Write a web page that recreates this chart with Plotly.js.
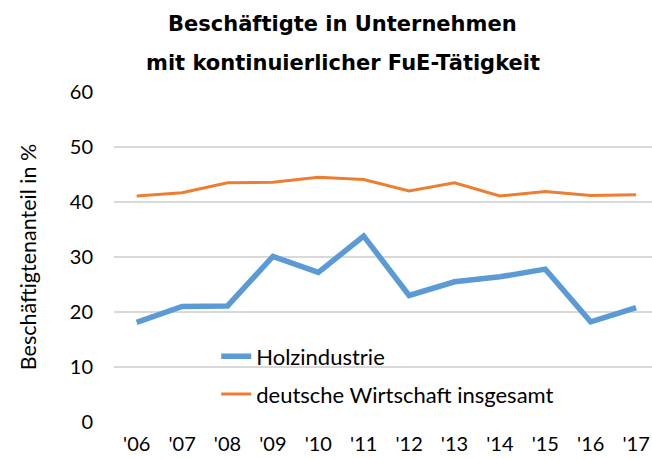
<!DOCTYPE html>
<html><head><meta charset="utf-8">
<script src="https://cdn.plot.ly/plotly-3.0.1.min.js"></script>
<style>body{margin:0;background:#fff}#c{width:652px;height:459px}</style>
</head><body><div id="c"></div>
<script>
const years = ["'06","'07","'08","'09","'10","'11","'12","'13","'14","'15","'16","'17"];
const holz = [18.1, 21.0, 21.1, 30.1, 27.2, 33.8, 23.0, 25.5, 26.4, 27.8, 18.2, 20.8];
const gesamt = [41.1, 41.7, 43.5, 43.6, 44.5, 44.1, 42.0, 43.5, 41.1, 41.9, 41.2, 41.3];
const seriesNames = ["Holzindustrie", "deutsche Wirtschaft insgesamt"];
const titleLines = ["Beschäftigte in Unternehmen", "mit kontinuierlicher FuE-Tätigkeit"];
const yTitle = "Beschäftigtenanteil in %";

const traces = [
  {x: years, y: holz, name: seriesNames[0], type: 'scatter', mode: 'lines',
   line: {color: '#5B9BD5', width: 5.5}, legendgroup: 'a'},
  {x: years, y: gesamt, name: seriesNames[1], type: 'scatter', mode: 'lines',
   line: {color: '#ED7D31', width: 3}, legendgroup: 'b'}
];
const fam = 'Lato, "Liberation Sans", sans-serif';
const tickFont = {family: fam, size: 20, color: '#000'};
const yTitleFont = {family: fam, size: 21.5, color: '#000'};
const legFont = {family: fam, size: 22, color: '#000'};
const titleFont = {family: '"DejaVu Sans", Verdana, sans-serif', size: 21, color: '#000'};
const layout = {
  width: 652, height: 459,
  margin: {l: 114, r: 0, t: 92, b: 37},
  paper_bgcolor: '#fff', plot_bgcolor: '#fff',
  font: tickFont,
  showlegend: true,
  legend: {x: 0.19, y: 0.262, xanchor: 'left', yanchor: 'top', bgcolor: 'rgba(0,0,0,0)',
           font: legFont, traceorder: 'grouped', tracegroupgap: 6, itemwidth: 30},
  xaxis: {type: 'category', range: [-0.5, 11.35], showgrid: false, zeroline: false,
          showline: false, ticks: '', tickfont: tickFont, ticklabelstandoff: 8},
  yaxis: {range: [0, 60], dtick: 10, showgrid: true, gridcolor: '#d9d9d9', gridwidth: 1.3,
          zeroline: false, showline: false, tickfont: tickFont, ticks: '', ticklabelstandoff: 20,
          title: {text: yTitle, font: yTitleFont, standoff: 27}},
  annotations: [
    {text: '<b>' + titleLines[0] + '</b>', xref: 'paper', yref: 'paper', x: 0.425, y: 1, yshift: 68,
     showarrow: false, xanchor: 'center', yanchor: 'middle', font: titleFont},
    {text: '<b>' + titleLines[1] + '</b>', xref: 'paper', yref: 'paper', x: 0.425, y: 1, yshift: 29,
     showarrow: false, xanchor: 'center', yanchor: 'middle', font: titleFont}
  ]
};
Plotly.newPlot('c', traces, layout, {displayModeBar: false, staticPlot: true});
</script></body></html>
